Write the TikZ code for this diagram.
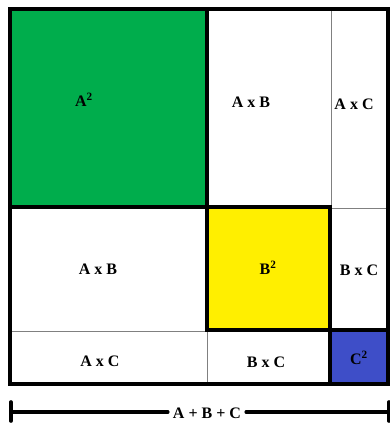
\documentclass[tikz,border=0pt]{standalone}
\usepackage{fontspec}
\setmainfont{Liberation Serif}
\usepackage{tikz}
\usetikzlibrary{positioning,calc}

\definecolor{sqgreen}{RGB}{0,173,76}
\definecolor{sqyellow}{RGB}{255,239,0}
\definecolor{sqblue}{RGB}{62,78,200}

\begin{document}
\begin{tikzpicture}[
    x=1pt, y=-1pt,
    bold/.style={draw=black, line width=3.6pt},
    thin/.style={draw=black!50, line width=0.9pt},
    lbl/.style={font=\fontsize{16}{19}\selectfont\bfseries, inner sep=0pt},
    bar/.style={line width=3.6pt, line cap=round}
]
\useasboundingbox (0,0) rectangle (390,423);

% 1. Coloured squares
\fill[sqgreen] (10,9) rectangle (207,207);
\fill[sqyellow] (207,207) rectangle (330,330);
\fill[sqblue] (330,330) rectangle (388,384);

% 2. Thin dividers
\draw[thin] (331,9) -- (331,208);
\draw[thin] (331,208) -- (388,208);
\draw[thin] (10,331) -- (207,331);
\draw[thin] (207,331) -- (207,384);

% 3. Thick borders
\draw[bold] (10,9) rectangle (207,207);
\draw[bold] (207,207) rectangle (330,330);
\draw[bold] (330,330) rectangle (388,384);
\draw[bold] (10,9) rectangle (388,384);

% 4. Labels
\node[lbl] (asq) at (84,100) {A\textsuperscript{2}};
\node[lbl] (abtop) at (251,102) {A x B};
\node[lbl] (actop) at (354,104) {A x C};
\node[lbl] (abmid) at (98,269) {A x B};
\node[lbl] (bsq) at (268,268) {B\textsuperscript{2}};
\node[lbl] (bcright) at (359,270) {B x C};
\node[lbl] (acbot) at (100,361) {A x C};
\node[lbl] (bcbot) at (266,362) {B x C};
\node[lbl] (csq) at (359,358) {C\textsuperscript{2}};

% 5. Total length
\node[lbl, inner xsep=5pt] (sum) at (207,413) {A + B + C};
\coordinate (lend) at (11,412);
\coordinate (rend) at (389,412);
\draw[bar] (lend) -- (sum.west |- lend);
\draw[bar] (sum.east |- rend) -- (rend);
\draw[bar] ($(lend)+(0,-10)$) -- ($(lend)+(0,9)$);
\draw[bar] ($(rend)+(0,-10)$) -- ($(rend)+(0,9)$);

\end{tikzpicture}
\end{document}
